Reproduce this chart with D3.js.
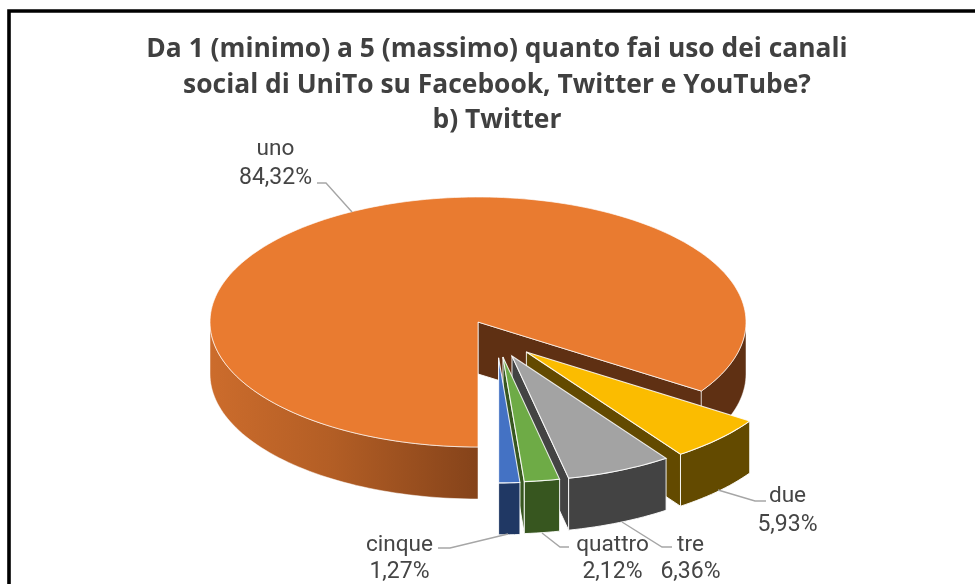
<!DOCTYPE html>
<html>
<head>
<meta charset="utf-8">
<script src="https://cdn.jsdelivr.net/npm/d3@7"></script>
<style>
html,body{margin:0;padding:0;background:#fff;overflow:hidden}
svg{display:block;filter:blur(0.45px)}
text{font-family:"Open Sans",sans-serif;fill:#404040}
text.lbl{font-family:Roboto,sans-serif;fill:#454545}
</style>
</head>
<body>
<svg id="c" width="975" height="584"></svg>
<script>
const categories = ["uno","due","tre","quattro","cinque"];
const values = [84.32,5.93,6.36,2.12,1.27];
const titleLines = ["Da 1 (minimo) a 5 (massimo) quanto fai uso dei canali","social di UniTo su Facebook, Twitter e YouTube?","b) Twitter"];
const topColors = ["#E97B30","#FBBC00","#A3A3A3","#6EAB46","#4472C4"];
const sideColors = ["#5F3013","#634A00","#434343","#37561F","#203864"];
const explodeSizes = [0,0.3,0.3,0.295,0.297];
const explodeBearings = [0,143,155,161.6,165];
const labelAnchors = [[275.5,155,184],[787.5,502,531],[690.5,551,578],[612.5,551,578],[399.5,551,578]];
const leaders = [
  [[317,183],[326,183],[352,212]],
  [[766,501],[755,501],[718,490]],
  [[672,547],[662,547],[622,522]],
  [[569,547],[560,547],[542,533]],
  [[438,548],[450,548],[508,534]]
];

const svg = d3.select("#c");
const rad = d => d*Math.PI/180;
const x = d3.scaleLinear().domain([-1,1]).range([210,746]);
const y = d3.scaleLinear().domain([-1,1]).range([197,447]);
const depth = 52;
const line = d3.line();

const defs = svg.append("defs");
const grad = defs.append("linearGradient").attr("id","wallLeft")
  .attr("gradientUnits","userSpaceOnUse").attr("x1",210).attr("x2",478).attr("y1",0).attr("y2",0);
grad.append("stop").attr("offset",0).attr("stop-color","#CC6C2C");
grad.append("stop").attr("offset",0.45).attr("stop-color","#B35E25");
grad.append("stop").attr("offset",1).attr("stop-color","#85431A");

// frame
svg.append("path").attr("d",line([[9,584],[9,11],[975,11]])).attr("fill","none").attr("stroke","#000").attr("stroke-width",3.6);

// title
svg.append("g").selectAll("text").data(titleLines).join("text")
  .attr("x",497).attr("y",(d,i)=>57+i*35.5)
  .attr("text-anchor","middle").attr("font-size",26.4).attr("font-weight",700).text(d=>d);

const pie = d3.pie().sort(null).startAngle(Math.PI).endAngle(3*Math.PI);
const arcs = pie(values);

const g = svg.append("g");
arcs.forEach((a,i)=>{
  const a0 = a.startAngle*180/Math.PI, a1 = a.endAngle*180/Math.PI;
  const ex = explodeSizes[i]*Math.sin(rad(explodeBearings[i]));
  const ey = -explodeSizes[i]*Math.cos(rad(explodeBearings[i]));
  const P = (deg,dz=0)=>[x(ex+Math.sin(rad(deg))), y(ey-Math.cos(rad(deg)))+dz];
  const C = (dz=0)=>[x(ex),y(ey)+dz];
  const sample = (lo,hi,dz=0)=>{
    const n = Math.max(2,Math.ceil((hi-lo)/1.5));
    return d3.range(n+1).map(k=>P(lo+(hi-lo)*k/n,dz));
  };
  // radial face at the end of the slice
  g.append("path").attr("d",line([C(),P(a1),P(a1,depth),C(depth)])+"Z")
    .attr("fill",sideColors[i]).attr("stroke","#fff").attr("stroke-width",0.9);
  // outer rim, only its front half shows
  [0,1].forEach(k=>{
    const lo = Math.max(a0,90+360*k), hi = Math.min(a1,270+360*k);
    if(hi<=lo) return;
    const pts = sample(lo,hi).concat(sample(lo,hi,depth).reverse());
    const fill = (i===0 && k===0) ? "url(#wallLeft)" : sideColors[i];
    g.append("path").attr("d",line(pts)+"Z").attr("fill",fill).attr("stroke","#fff").attr("stroke-width",i===0?0.5:0.9);
  });
  // top
  g.append("path").attr("d",line([C()].concat(sample(a0,a1)))+"Z")
    .attr("fill",topColors[i]).attr("stroke","#fff").attr("stroke-width",i===0?0.8:1.1).attr("stroke-opacity",0.85);
});

// leader lines
svg.append("g").selectAll("path").data(leaders).join("path")
  .attr("d",d=>line(d)).attr("fill","none").attr("stroke","#A6A6A6").attr("stroke-width",1.4);

// labels
const pct = v=>v.toFixed(2).replace(".",",")+"%";
const lab = svg.append("g").selectAll("g").data(categories).join("g")
  .attr("transform",(d,i)=>`translate(${labelAnchors[i][0]},0)`);
lab.append("text").attr("class","lbl").attr("text-anchor","middle").attr("font-size",22.6).attr("y",(d,i)=>labelAnchors[i][1]).text(d=>d);
lab.append("text").attr("class","lbl").attr("text-anchor","middle").attr("font-size",23).attr("y",(d,i)=>labelAnchors[i][2]).text((d,i)=>pct(values[i]));
</script>
</body>
</html>
